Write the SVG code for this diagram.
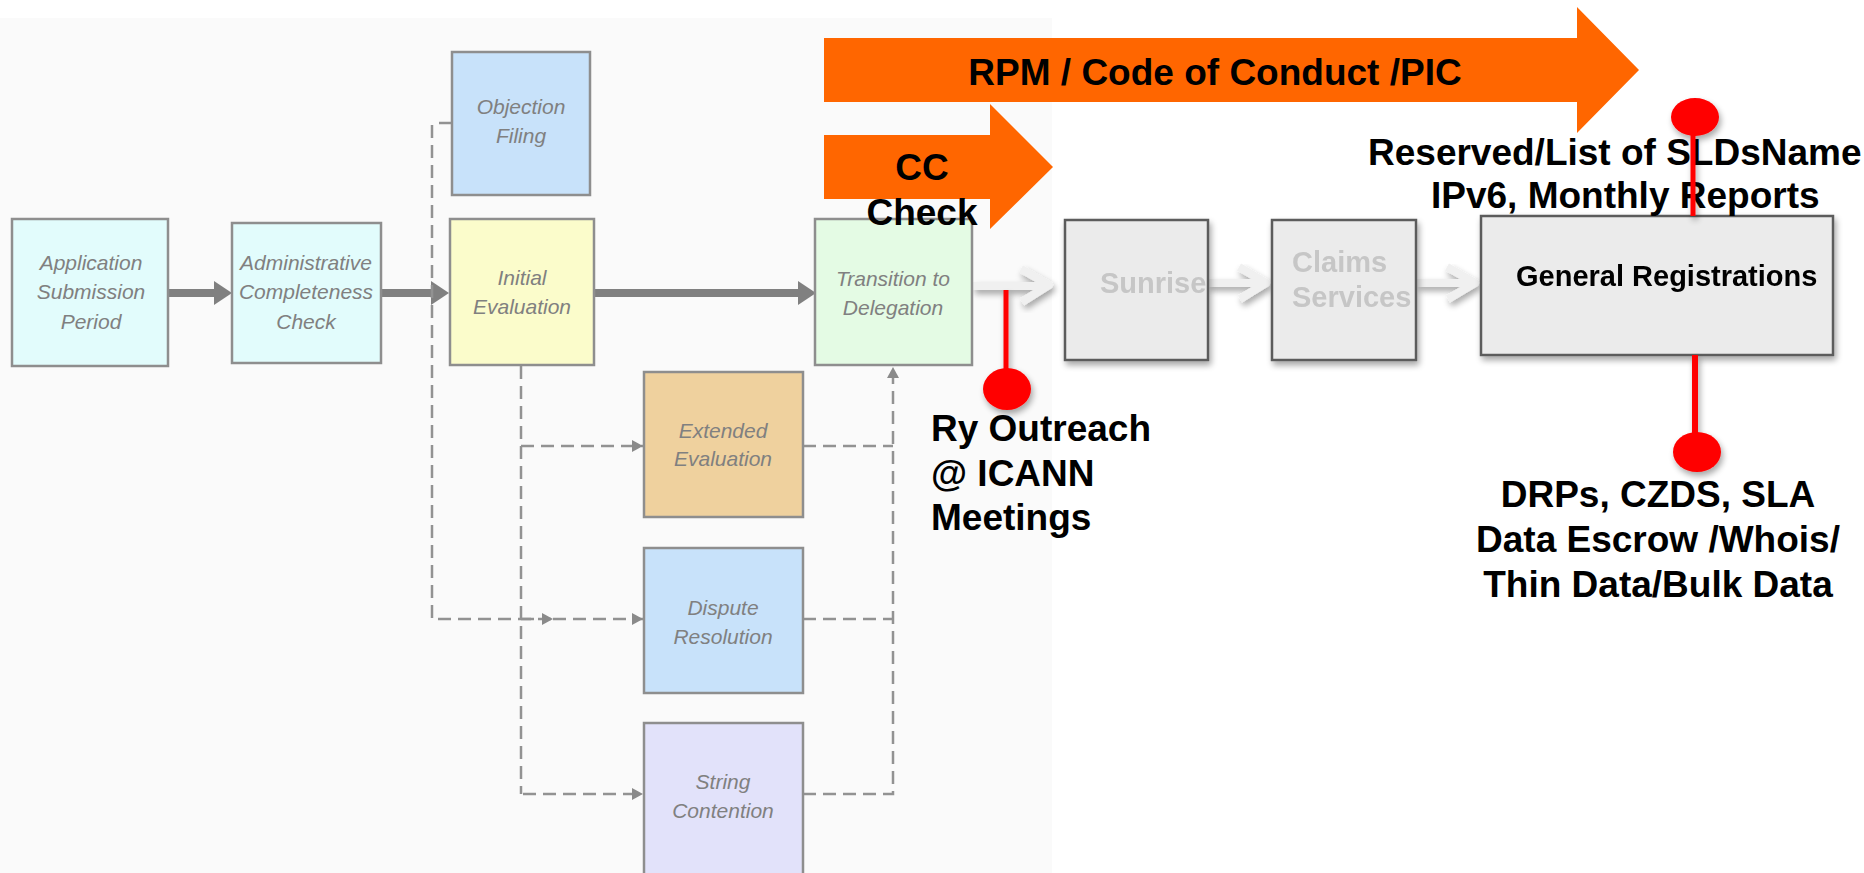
<svg xmlns="http://www.w3.org/2000/svg" width="1864" height="873" viewBox="0 0 1864 873">
<style>
.nb{stroke:#8e8e8e;stroke-width:2.5}
.lt{font-family:"Liberation Sans",Arial,sans-serif;font-style:italic;font-size:21px;fill:#808080;text-anchor:middle}
.gb{fill:#ebebeb;stroke:#5c5c5c;stroke-width:2.5}
.gt{font-family:"Liberation Sans",Arial,sans-serif;font-weight:bold;font-size:29px;fill:#c6c6c6}
.big{font-family:"Liberation Sans",Arial,sans-serif;font-weight:bold;font-size:37px;fill:#000}
.thick{stroke:#808080;stroke-width:8;fill:none}
.dash{stroke:#929292;stroke-width:2.5;stroke-dasharray:13 7;fill:none}
.ga{stroke:#f0f0f0;stroke-width:8;fill:none;stroke-linejoin:round}
.red{stroke:#ff0000;fill:none}
.pin{fill:#ff0000}
.orange{fill:#ff6600}
</style>
<defs>
<marker id="th" markerUnits="userSpaceOnUse" markerWidth="18" markerHeight="24" refX="0" refY="12" orient="auto">
<path d="M0,0 L18,12 L0,24 z" fill="#808080"/>
</marker>
<marker id="dh" markerUnits="userSpaceOnUse" markerWidth="11" markerHeight="12" refX="11" refY="6" orient="auto">
<path d="M0,0 L11,6 L0,12 z" fill="#8a8a8a"/>
</marker>
<filter id="sh" x="-20%" y="-20%" width="150%" height="150%">
<feGaussianBlur in="SourceAlpha" stdDeviation="3"/>
<feOffset dx="2" dy="4" result="b"/>
<feComponentTransfer><feFuncA type="linear" slope="0.35"/></feComponentTransfer>
<feMerge><feMergeNode/><feMergeNode in="SourceGraphic"/></feMerge>
</filter>
</defs>
<rect x="0" y="0" width="1864" height="873" fill="#ffffff"/>
<rect x="0" y="18" width="1052" height="855" fill="#fafafa"/>

<g id="connectors">
<line class="thick" x1="168" y1="293" x2="214" y2="293" marker-end="url(#th)"/>
<line class="thick" x1="381" y1="293" x2="431" y2="293" marker-end="url(#th)"/>
<line class="thick" x1="592" y1="293" x2="798" y2="293" marker-end="url(#th)"/>
<path d="M588,293 L594,288 L598,293 L594,298 z" fill="#808080"/>
<line x1="439" y1="123" x2="451" y2="123" stroke="#929292" stroke-width="2.5"/>
<path class="dash" d="M432,125 V619 H553" marker-end="url(#dh)"/>
<path class="dash" d="M553,619 H643" marker-end="url(#dh)"/>
<path class="dash" d="M521,366 V794"/>
<path class="dash" d="M521,446 H643" marker-end="url(#dh)"/>
<path class="dash" d="M521,619 H540"/>
<path class="dash" d="M523,794 H643" marker-end="url(#dh)"/>
<path class="dash" d="M803,446 H893"/>
<path class="dash" d="M803,619 H893"/>
<path class="dash" d="M803,794 H893 V367" marker-end="url(#dh)"/>
<g filter="url(#sh)">
<line class="ga" x1="973" y1="286" x2="1044" y2="286"/>
<path class="ga" d="M1021,269 L1049,285 L1022,302"/>
<line class="ga" x1="1208" y1="283" x2="1262" y2="283"/>
<path class="ga" d="M1239,267 L1266,283 L1240,299"/>
<line class="ga" x1="1417" y1="283" x2="1472" y2="283"/>
<path class="ga" d="M1447,267 L1475,283 L1448,299"/>
</g>
</g>

<g id="app">
<rect class="nb" x="12" y="219" width="156" height="147" fill="#e2fcfc"/>
<text class="lt" x="91" y="270">Application</text>
<text class="lt" x="91" y="299">Submission</text>
<text class="lt" x="91" y="329">Period</text>
</g>
<g id="admin">
<rect class="nb" x="232" y="223" width="149" height="140" fill="#e2fcfc"/>
<text class="lt" x="306" y="270">Administrative</text>
<text class="lt" x="306" y="299">Completeness</text>
<text class="lt" x="306" y="329">Check</text>
</g>
<g id="objection">
<rect class="nb" x="452" y="52" width="138" height="143" fill="#c8e2fa"/>
<text class="lt" x="521" y="114">Objection</text>
<text class="lt" x="521" y="143">Filing</text>
</g>
<g id="initial">
<rect class="nb" x="450" y="219" width="144" height="146" fill="#fbfccb"/>
<text class="lt" x="522" y="285">Initial</text>
<text class="lt" x="522" y="314">Evaluation</text>
</g>
<g id="transition">
<rect class="nb" x="815" y="219" width="157" height="146" fill="#e4fbe4"/>
<text class="lt" x="893" y="286">Transition to</text>
<text class="lt" x="893" y="315">Delegation</text>
</g>
<g id="extended">
<rect class="nb" x="644" y="372" width="159" height="145" fill="#efd19e"/>
<text class="lt" x="723" y="438">Extended</text>
<text class="lt" x="723" y="466">Evaluation</text>
</g>
<g id="dispute">
<rect class="nb" x="644" y="548" width="159" height="145" fill="#c8e2fa"/>
<text class="lt" x="723" y="615">Dispute</text>
<text class="lt" x="723" y="644">Resolution</text>
</g>
<g id="string">
<rect class="nb" x="644" y="723" width="159" height="160" fill="#e2e2fa"/>
<text class="lt" x="723" y="789">String</text>
<text class="lt" x="723" y="818">Contention</text>
</g>

<g id="rpm">
<path class="orange" d="M824,38 H1577 V7 L1639,70 L1577,133 V102 H824 z"/>
<text class="big" x="1215" y="85" text-anchor="middle">RPM / Code of Conduct /PIC</text>
</g>
<g id="cc">
<path class="orange" d="M824,135 H990 V104 L1053,167 L990,229 V199 H824 z"/>
<text class="big" x="922" y="180" text-anchor="middle">CC</text>
<text class="big" x="922" y="225" text-anchor="middle">Check</text>
</g>

<g id="sunrise" filter="url(#sh)">
<rect class="gb" x="1065" y="220" width="143" height="140"/>
<text class="gt" x="1100" y="293">Sunrise</text>
</g>
<g id="claims" filter="url(#sh)">
<rect class="gb" x="1272" y="220" width="144" height="140"/>
<text class="gt" x="1292" y="272">Claims</text>
<text class="gt" x="1292" y="307">Services</text>
</g>
<g id="general" filter="url(#sh)">
<rect class="gb" x="1481" y="216" width="352" height="139" fill="#efefef"/>
<text x="1516" y="286" font-family="Liberation Sans, Arial, sans-serif" font-weight="bold" font-size="29" fill="#000">General Registrations</text>
</g>

<g id="outreach">
<g filter="url(#sh)">
<line class="red" x1="1006" y1="290" x2="1006" y2="375" stroke-width="5"/>
<ellipse class="pin" cx="1007" cy="389" rx="24" ry="21"/>
</g>
<text class="big" x="931" y="441">Ry Outreach</text>
<text class="big" x="931" y="486">@ ICANN</text>
<text class="big" x="931" y="530">Meetings</text>
</g>

<g id="reserved">
<text class="big" x="1368" y="165">Reserved/List of SLDsName</text>
<text class="big" x="1431" y="208">IPv6, Monthly Reports</text>
<g filter="url(#sh)">
<line class="red" x1="1693" y1="120" x2="1693" y2="216" stroke-width="5"/>
<ellipse class="pin" cx="1695" cy="117" rx="24" ry="19"/>
</g>
</g>

<g id="drps">
<g filter="url(#sh)">
<line class="red" x1="1695" y1="355" x2="1695" y2="440" stroke-width="6"/>
<ellipse class="pin" cx="1697" cy="452" rx="24" ry="20"/>
</g>
<text class="big" x="1658" y="507" text-anchor="middle">DRPs, CZDS, SLA</text>
<text class="big" x="1658" y="552" text-anchor="middle">Data Escrow /Whois/</text>
<text class="big" x="1658" y="597" text-anchor="middle">Thin Data/Bulk Data</text>
</g>
</svg>
